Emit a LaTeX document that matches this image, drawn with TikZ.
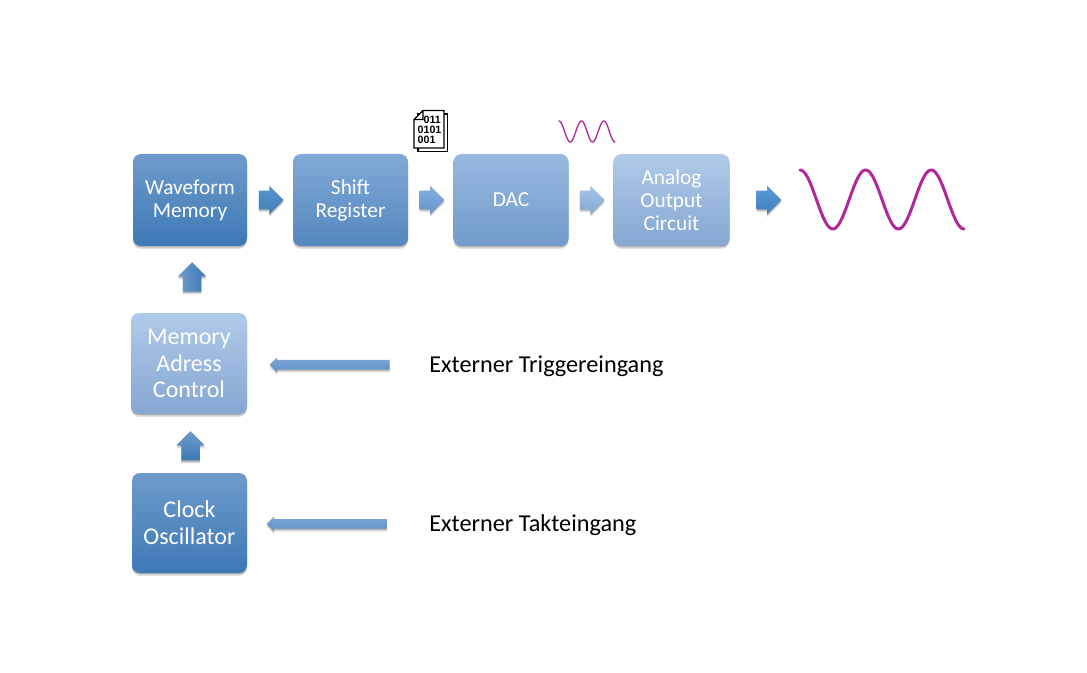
\documentclass[tikz,border=0pt]{standalone}
\usepackage{fontspec}
\setmainfont{Carlito}
\newfontfamily\BitFont{Liberation Sans}[BoldFont={Liberation Sans Bold}]
\usetikzlibrary{shapes.arrows,shadows}
\definecolor{WaveTop}{HTML}{6E9BCB}
\definecolor{WaveBot}{HTML}{3D79B6}
\definecolor{ShiftTop}{HTML}{81A9D7}
\definecolor{ShiftBot}{HTML}{5587BE}
\definecolor{DacTop}{HTML}{97B8E0}
\definecolor{DacBot}{HTML}{719BCA}
\definecolor{PaleTop}{HTML}{B0CAE9}
\definecolor{PaleBot}{HTML}{85A7D2}
\definecolor{ArrowATop}{HTML}{5A94CF}
\definecolor{ArrowABot}{HTML}{3F7FB8}
\definecolor{ArrowBTop}{HTML}{85AEDE}
\definecolor{ArrowBBot}{HTML}{6595CB}
\definecolor{ArrowCTop}{HTML}{A6C3E6}
\definecolor{ArrowCBot}{HTML}{82A9D6}
\definecolor{OutTop}{HTML}{5B9BD5}
\definecolor{OutBot}{HTML}{3F7FBF}
\definecolor{FeedTop}{HTML}{7FA8D8}
\definecolor{FeedBot}{HTML}{5B8FC6}
\definecolor{SignalPen}{HTML}{B0289B}
\tikzset{
    softshadow/.style={
        drop shadow={shadow xshift=0pt,shadow yshift=-1pt,opacity=.2,fill=black},
        drop shadow={shadow xshift=0pt,shadow yshift=-2.2pt,opacity=.12,fill=black}},
    blockbox/.style n args={4}{draw=none,rounded corners=6pt,text=white,align=center,inner sep=0pt,
        minimum width=#1*.75pt,minimum height=#2*.75pt,top color=#3,bottom color=#4,softshadow},
    flowarrow/.style={single arrow,draw=none,inner xsep=0pt,inner ysep=6.75pt,minimum height=18.5pt,
        single arrow head extend=3.75pt,single arrow head indent=0pt,softshadow},
    feedarrow/.style={single arrow,draw=none,inner xsep=0pt,inner ysep=3.4pt,minimum height=90pt,
        xshift=1.5pt,rotate=180,single arrow head extend=1.9pt,single arrow head indent=0pt,
        top color=FeedTop,bottom color=FeedBot,softshadow},
    bigtext/.style={font=\fontsize{18}{19.9}\selectfont},
    labeltext/.style={anchor=west,inner sep=0pt,font=\fontsize{18.2}{19.9}\selectfont},
    signal/.style={draw=SignalPen,line cap=round,line join=round},
}
\begin{document}
\begin{tikzpicture}[x=.75pt,y=-.75pt,font=\fontsize{16}{17.25}\selectfont]
    \useasboundingbox (0,0) rectangle (1087,673);
    \node[blockbox={114}{92}{WaveTop}{WaveBot}] (Waveform) at (190,200) {Waveform\\Memory};
    \node[blockbox={115}{92}{ShiftTop}{ShiftBot}] (Shift) at (350.5,200) {Shift\\Register};
    \node[blockbox={115}{92}{DacTop}{DacBot}] (Dac) at (511,200) {DAC};
    \node[blockbox={116}{92}{PaleTop}{PaleBot}] (Analog) at (671.5,200) {Analog\\Output\\Circuit};
    \node[blockbox={116}{101}{PaleTop}{PaleBot},bigtext] (Memory) at (189,363.5) {Memory\\Adress\\Control};
    \node[blockbox={115}{100}{WaveTop}{WaveBot},bigtext] (Clock) at (189.5,523) {Clock\\Oscillator};
    \node[labeltext] (ExtTrigger) at (429,366) {Externer Triggereingang};
    \node[labeltext] (ExtClock) at (429,525) {Externer Takteingang};
    \coordinate (SignalIn) at (800,200);
    \path (Waveform.east) -- (Shift.west) node[flowarrow,top color=ArrowATop,bottom color=ArrowABot,midway,xshift=-2.5pt] (ArrowA) {};
    \path (Shift.east) -- (Dac.west) node[flowarrow,top color=ArrowBTop,bottom color=ArrowBBot,midway,xshift=-2.5pt] (ArrowB) {};
    \path (Dac.east) -- (Analog.west) node[flowarrow,top color=ArrowCTop,bottom color=ArrowCBot,midway,xshift=-2.5pt] (ArrowC) {};
    \path (Analog.east) -- (SignalIn) node[flowarrow,top color=OutTop,bottom color=OutBot,pos=.54,xshift=-2.5pt] (ArrowOut) {};
    \path (Memory.north) -- (Waveform.south) node[flowarrow,left color=WaveTop,right color=WaveBot,pos=.53,xshift=2pt,yshift=-3pt,rotate=90,minimum height=22pt] (ArrowUpA) {};
    \path (Clock.north) -- (Memory.south) node[flowarrow,top color=WaveTop,bottom color=WaveBot,pos=.45,xshift=1pt,yshift=-3pt,rotate=90,minimum height=22pt] (ArrowUpB) {};
    \path (ExtTrigger.west) -- (Memory.east) node[feedarrow,pos=.544] (FeedTrigger) {};
    \path (ExtClock.west) -- (Clock.east) node[feedarrow,pos=.56] (FeedClock) {};
    \draw[signal,line width=2.25pt] plot[domain=0:164,samples=120] ({800+\x},{199.5-29.5*cos(\x/65.6*360)});
    \draw[signal,line width=1pt] plot[domain=0:56,samples=80] ({559+\x},{131.5-10.5*cos(\x/22.4*360)});
    \draw[fill=white,line width=1pt] (418,114) -- (447.5,114) -- (447.5,151.5) -- (418,151.5) -- cycle;
    \draw[fill=white,line width=1pt] (423,110.5) -- (444,110.5) -- (444,148) -- (414,148) -- (414,119.5) -- cycle (423,110.5) -- (423,119.5) -- (414,119.5);
    \node[font=\BitFont\bfseries\fontsize{8}{7.6}\selectfont,align=left,inner sep=0pt] (Bits) at (429.5,129.5) {\phantom{0}011\\0101\\001};
\end{tikzpicture}
\end{document}
